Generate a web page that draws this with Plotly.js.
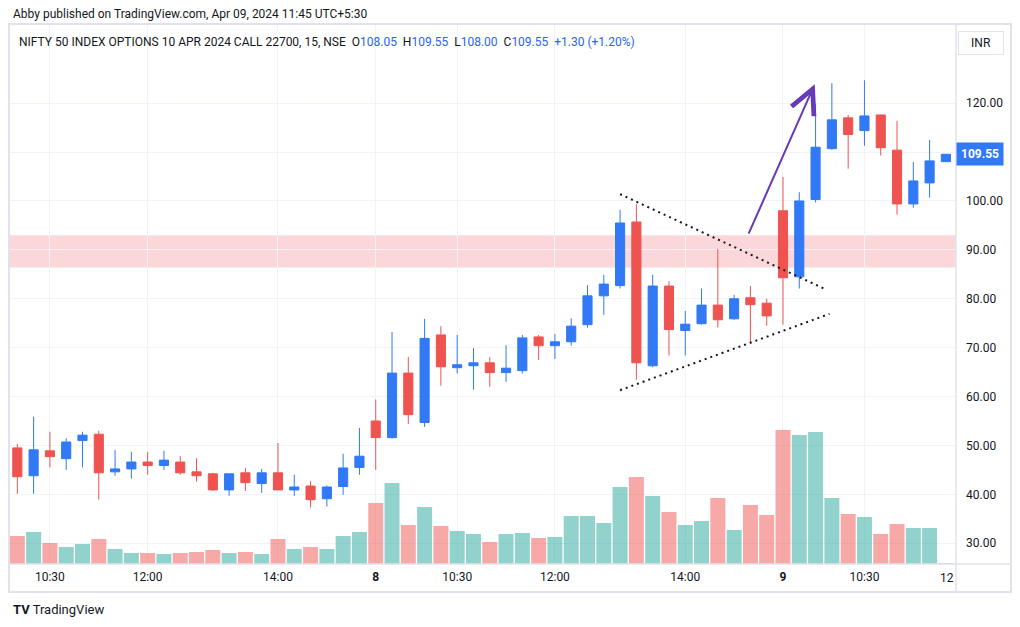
<!DOCTYPE html>
<html><head><meta charset="utf-8">
<script src="https://cdn.plot.ly/plotly-3.0.1.min.js"></script>
<style>html,body{margin:0;padding:0;background:#fff;overflow:hidden}#chart{width:1020px;height:627px;}</style>
</head><body><div id="chart"></div>
<script>
// ---- data (15-minute candles, NIFTY 10 APR 2024 22700 CE) ----
const opens  = [49.5,43.8,48.9,47.3,51.0,52.3,44.6,45.2,46.6,45.9,46.6,44.6,44.2,40.9,44.4,42.2,44.4,40.9,41.7,39.1,41.6,45.5,
                55.0,51.6,64.8,54.7,72.6,65.9,66.3,66.9,64.9,65.3,72.2,70.4,71.2,74.7,80.6,82.7,95.7,66.3,82.6,73.5,74.9,78.7,75.9,80.2,79.1,
                98.0,84.5,100.3,110.7,117.0,114.4,117.6,110.4,99.4,103.7,108.05];
const highs  = [50.3,55.9,52.8,51.5,52.8,53.0,49.1,48.7,48.7,48.9,47.8,47.4,44.4,44.2,45.4,45.2,50.5,44.0,42.7,41.8,48.3,53.6,
                59.4,73.2,68.1,75.9,74.4,72.6,69.9,68.1,70.5,72.6,72.6,72.8,76.0,82.8,84.9,98.2,99.4,84.9,83.6,77.5,82.1,90.2,80.8,82.6,80.0,
                104.9,101.8,119.8,124.1,117.6,124.7,117.6,116.4,108.0,112.5,109.55];
const lows   = [40.1,40.1,45.5,45.0,45.5,38.9,43.8,43.2,44.0,45.0,44.0,42.6,40.7,39.7,40.7,40.3,40.9,39.7,37.3,37.5,39.9,44.0,
                45.0,51.4,54.4,53.8,62.2,64.7,61.4,62.0,63.0,64.7,67.5,67.7,70.4,74.1,76.7,82.1,63.4,66.0,68.4,68.4,74.7,74.1,75.7,71.0,74.5,
                74.7,82.1,99.7,110.5,106.6,111.3,109.3,97.2,98.6,100.7,108.00];
const closes = [43.6,49.1,47.7,50.7,52.1,44.4,45.2,46.6,45.9,47.0,44.4,43.8,40.9,44.2,42.4,44.4,40.9,41.5,38.9,41.5,45.4,47.8,
                51.6,64.8,56.3,71.9,66.1,66.5,66.9,64.9,65.8,72.0,70.4,71.2,74.4,80.6,83.0,95.5,66.9,82.6,73.7,74.8,78.7,75.7,80.0,78.8,76.5,
                84.3,100.0,111.0,116.6,113.6,117.4,110.9,99.4,104.1,108.2,109.55];
const volumes = [28,32,21,17,20,25,15,11,11,10,11,12,14,11,12,10,25,15,17,15,28,32,
                 61,81,39,57,38,33,30,22,30,31,26,27,48,48,41,77,87,68,52,39,43,66,34,59,49,
                 134,129,132,66,50,47,30,40,36,36,1];
const tickIdx  = [2,8,16,22,27,33,41,47,52];
const tickText = ["10:30","12:00","14:00","<b>8</b>","10:30","12:00","14:00","<b>9</b>","10:30"];
const priceTicks    = [30,40,50,60,70,80,90,100,110,120];
const priceTickText = ["30.00","40.00","50.00","60.00","70.00","80.00","90.00","100.00","","120.00"];
const lastPrice = 109.55;
// drawings on the chart (index, price)
const zoneBand   = [86.4, 93.0];
const trendUpper = [[37.0,101.4],[49.7,81.8]];
const trendLower = [[37.0,61.3],[49.85,76.9]];
const arrowPath  = [[44.85,93.0],[48.95,123.9]];

// ---- styling ----
const BLUE = '#3179f5', RED = '#ef5350';
const VOL_UP = 'rgba(38,166,154,0.5)', VOL_DN = 'rgba(239,83,80,0.5)';
const GRID = '#f0f3fa', FRAME = '#e0e3eb', TXT = '#131722';
const FONT = 'Roboto, "Noto Sans", sans-serif';
const L=10, R=956, T=24, B=564;
const px = x => (x-L)/(R-L), py = y => (B-y)/(B-T);
const idx = opens.map((_, i) => i);

const traces = [
  {type:'bar', x:idx, y:volumes, yaxis:'y', hoverinfo:'skip',
   marker:{color: idx.map(i => closes[i] >= opens[i] ? VOL_UP : VOL_DN), line:{width:0}}},
  {type:'candlestick', x:idx, open:opens, high:highs, low:lows, close:closes, yaxis:'y2',
   whiskerwidth:0,
   increasing:{line:{color:BLUE,width:1}, fillcolor:BLUE},
   decreasing:{line:{color:RED,width:1}, fillcolor:RED}, hoverinfo:'skip'}
];

const dotLine = {color:TXT, width:2, dash:'2px,4px'};
const layout = {
  width:1020, height:627, margin:{l:L, r:1020-R, t:T, b:627-B},
  paper_bgcolor:'#fff', plot_bgcolor:'#fff', showlegend:false,
  font:{family:FONT, size:12, color:TXT},
  bargap:0.08, boxgap:0.2,
  xaxis:{range:[-0.45,57.62], tickvals:tickIdx, ticktext:tickText, showgrid:true, gridcolor:GRID,
         zeroline:false, showline:false, ticks:'', rangeslider:{visible:false}, fixedrange:true,
         tickfont:{family:FONT, size:12, color:TXT}, ticklabelstandoff:4},
  yaxis:{range:[0,540], visible:false, fixedrange:true},
  yaxis2:{overlaying:'y', side:'right', range:[25.75,136.2], tickvals:priceTicks, ticktext:priceTickText,
          showgrid:true, gridcolor:GRID, zeroline:false, ticks:'', showline:false, fixedrange:true,
          tickfont:{family:FONT, size:12, color:TXT}, ticklabelstandoff:9},
  shapes:[
    {type:'rect', xref:'paper', x0:0, x1:1, yref:'y2', y0:zoneBand[0], y1:zoneBand[1],
     fillcolor:'rgba(242,54,69,0.2)', line:{width:0}, layer:'below'},
    {type:'line', xref:'x', yref:'y2', x0:trendUpper[0][0], y0:trendUpper[0][1], x1:trendUpper[1][0], y1:trendUpper[1][1], line:dotLine},
    {type:'line', xref:'x', yref:'y2', x0:trendLower[0][0], y0:trendLower[0][1], x1:trendLower[1][0], y1:trendLower[1][1], line:dotLine},
    // frame
    {type:'rect', xref:'paper', yref:'paper', x0:px(9), x1:px(1011), y0:py(592), y1:py(24), line:{color:FRAME, width:2}},
    {type:'line', xref:'paper', yref:'paper', x0:px(9), x1:px(1011), y0:py(564), y1:py(564), line:{color:FRAME, width:1.5}},
    {type:'line', xref:'paper', yref:'paper', x0:px(956), x1:px(956), y0:py(592), y1:py(24), line:{color:FRAME, width:1.5}}
  ],
  annotations:[
    {xref:'x', yref:'y2', x:arrowPath[1][0], y:arrowPath[1][1], axref:'x', ayref:'y2',
     ax:arrowPath[0][0], ay:arrowPath[0][1], text:'', showarrow:true, arrowhead:5, arrowsize:2.4,
     arrowwidth:2, arrowcolor:'#673ab7'},
    {xref:'paper', yref:'paper', x:px(11), y:py(14), xanchor:'left', yanchor:'middle', showarrow:false,
     text:'Abby published on TradingView.com, Apr 09, 2024 11:45 UTC+5:30', font:{size:12, color:TXT}},
    {xref:'paper', yref:'paper', x:px(17), y:py(42), xanchor:'left', yanchor:'middle', showarrow:false,
     text:'NIFTY 50 INDEX OPTIONS 10 APR 2024 CALL 22700, 15, NSE  O<span style="color:#2962ff">108.05</span>  H<span style="color:#2962ff">109.55</span>  L<span style="color:#2962ff">108.00</span>  C<span style="color:#2962ff">109.55</span>  <span style="color:#2962ff">+1.30 (+1.20%)</span>',
     font:{size:12, color:TXT}},
    {xref:'paper', yref:'paper', x:px(981), y:py(43), xanchor:'center', yanchor:'middle', showarrow:false,
     text:'INR', width:40, height:18, bordercolor:FRAME, borderwidth:1, borderpad:2, font:{size:12, color:TXT}},
    {xref:'paper', yref:'y2', x:1, y:lastPrice, xanchor:'left', yanchor:'middle', showarrow:false,
     text:'<b>'+lastPrice.toFixed(2)+'</b>', bgcolor:BLUE, borderpad:4, font:{size:12, color:'#fff'}},
    {xref:'paper', yref:'paper', x:1, y:py(578), xanchor:'right', yanchor:'middle', showarrow:false,
     text:'12', font:{size:12, color:TXT}},
    {xref:'paper', yref:'paper', x:px(11), y:py(609), xanchor:'left', yanchor:'middle', showarrow:false,
     text:'<b>TV</b> TradingView', font:{size:13, color:TXT}}
  ]
};
Plotly.newPlot('chart', traces, layout, {displayModeBar:false, staticPlot:true});
</script></body></html>
